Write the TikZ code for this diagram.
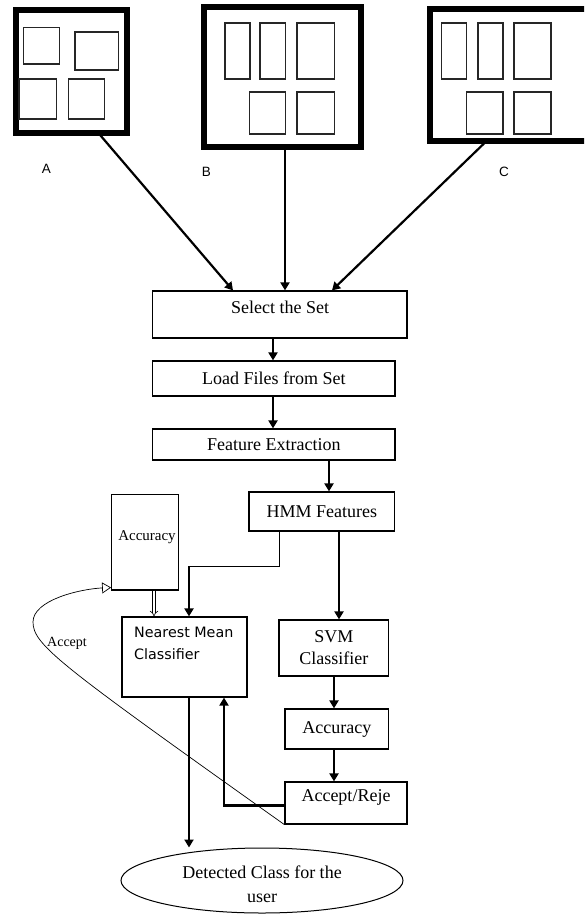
\documentclass[tikz,border=0pt]{standalone}
\usepackage{fontspec}
\setmainfont{Liberation Serif}
\newfontfamily\nmfont{DejaVu Sans}
\newfontfamily\lblfont{Liberation Sans}
\usetikzlibrary{arrows.meta,shapes.geometric}
\begin{document}
\begin{tikzpicture}[x=1pt,y=-1pt,
  frame/.style={draw=black,line width=6pt},
  inner/.style={draw=black!85,line width=1.3pt},
  box/.style={draw=black,line width=1.2pt,rectangle,inner sep=0pt,
    font=\fontsize{18}{22}\selectfont,align=center},
  txt/.style={inner sep=0pt,font=\fontsize{18}{22}\selectfont,align=center},
  setlbl/.style={inner sep=0pt,font=\lblfont\fontsize{13.5}{15}\selectfont},
  flow/.style={line width=2.6pt,-{Triangle[length=8pt,width=9pt]}},
  thin/.style={line width=1pt},
  curve/.style={line width=0.7pt,-{Triangle[open,length=9pt,width=11pt]}}
]
\useasboundingbox (0,0) rectangle (584,915);
\clip (0,0) rectangle (584,915);

% set boxes
\draw[frame] (16,10) rectangle (126.5,132.7);
\draw[inner] (23.8,27.7) rectangle (59.6,64);
\draw[inner] (74.9,32) rectangle (118.8,70);
\draw[inner] (19,79) rectangle (56.6,119);
\draw[inner] (68.5,79) rectangle (104.3,119);

\draw[frame] (204,7) rectangle (360.7,147.2);
\draw[inner] (225,23) rectangle (250,79);
\draw[inner] (260,23) rectangle (285.6,79);
\draw[inner] (297,23) rectangle (334.5,79);
\draw[inner] (249.5,92) rectangle (285.6,134);
\draw[inner] (297,92) rectangle (334.5,134);

\draw[frame] (429.5,9) rectangle (620,140.5);
\draw[inner] (441.7,23) rectangle (466.7,79);
\draw[inner] (478,23) rectangle (503,79);
\draw[inner] (514,23) rectangle (551,79);
\draw[inner] (466.7,92) rectangle (503,134);
\draw[inner] (514,92) rectangle (551,134);

\node[setlbl] (lA) at (46.5,168.5) {A};
\node[setlbl] (lB) at (206.3,171.5) {B};
\node[setlbl] (lC) at (504,171.5) {C};

\coordinate (outA) at (100.5,135.5);
\coordinate (outB) at (285,150);
\coordinate (outC) at (484,143.5);

% flow boxes
\node[box,minimum width=254.3pt,minimum height=47pt] (sel) at (279.9,314.5) {};
\node[txt] (selt) at (280,307) {Select the Set};
\node[box,minimum width=242.3pt,minimum height=35pt] (load) at (273.9,378.5) {Load Files from Set};
\node[box,minimum width=242.3pt,minimum height=31pt] (feat) at (273.9,444.5) {Feature Extraction};
\node[box,minimum width=145.7pt,minimum height=39pt] (hmm) at (321.9,511.5) {HMM Features};
\node[box,minimum width=109.7pt,minimum height=56pt] (svm) at (333.9,648) {SVM\\Classifier};
\node[box,minimum width=103.7pt,minimum height=40pt] (acc2) at (336.9,729) {Accuracy};
\node[box,minimum width=122pt,minimum height=42pt] (ar) at (346,803) {};
\node[txt] (art) at (346,797) {Accept/Reje};
\node[box,minimum width=125pt,minimum height=80pt] (nmc) at (184.5,657) {};
\node[inner sep=0pt,anchor=north west,align=left,font=\nmfont\fontsize{14.3}{22}\selectfont] (nmct) at (134,627) {Nearest Mean\\Classifier};
\node[box,minimum width=66.6pt,minimum height=95.3pt] (acc1) at (145,542.3) {};
\node[inner sep=0pt,font=\fontsize{15}{18}\selectfont] (acc1t) at (147,537) {Accuracy};
\node[draw=black,line width=1pt,ellipse,minimum width=282pt,minimum height=65pt,inner sep=0pt] (det) at (262,880.5) {};
\node[txt,font=\fontsize{18}{24}\selectfont] (dett) at (262,884) {Detected Class for the\\user};
\node[inner sep=0pt,font=\fontsize{14}{16}\selectfont] (acl) at (67,643) {Accept};

% connectors
\draw[line width=2.2pt,-{Triangle[length=8pt,width=9pt]}] (outA) -- (sel.north -| 233,0);
\draw[line width=2.2pt,-{Triangle[length=8pt,width=9pt]}] (outB) -- (sel.north -| outB);
\draw[line width=2.2pt,-{Triangle[length=8pt,width=9pt]}] (outC) -- (sel.north -| 332,0);

\draw[flow] (sel.south -| 273,0) -- (load.north -| 273,0);
\draw[flow] (load.south -| 273,0) -- (feat.north -| 273,0);
\draw[flow] (feat.south -| 329,0) -- (hmm.north -| 329,0);
\draw[flow] (hmm.south -| 339,0) -- (svm.north -| 339,0);
\draw[flow] (svm.south -| 334,0) -- (acc2.north -| 334,0);
\draw[flow] (acc2.south -| 334,0) -- (ar.north -| 334,0);

\coordinate (hb) at (279,566);
\coordinate (hl) at (189,566);
\draw[thin] (hmm.south -| hb) -- (hb) -- (hl);
\draw[flow] (hl) -- (nmc.north -| hl);

\draw[line width=0.6pt,double,double distance=2.4pt,-{Implies}] (acc1.south -| 154,0) -- (nmc.north -| 154,0);

\draw[flow] (nmc.south -| 189,0) -- (det.north -| 189,0);

\coordinate (arl) at (224,805.7);
\draw[flow] (ar.west |- arl) -- (arl) -- (nmc.south -| arl);

\draw[curve] (ar.south west) .. controls (60,665) and (33,645) .. (33,622)
  .. controls (33,600) and (80,589) .. (acc1.west |- 0,587.5);
\end{tikzpicture}
\end{document}
